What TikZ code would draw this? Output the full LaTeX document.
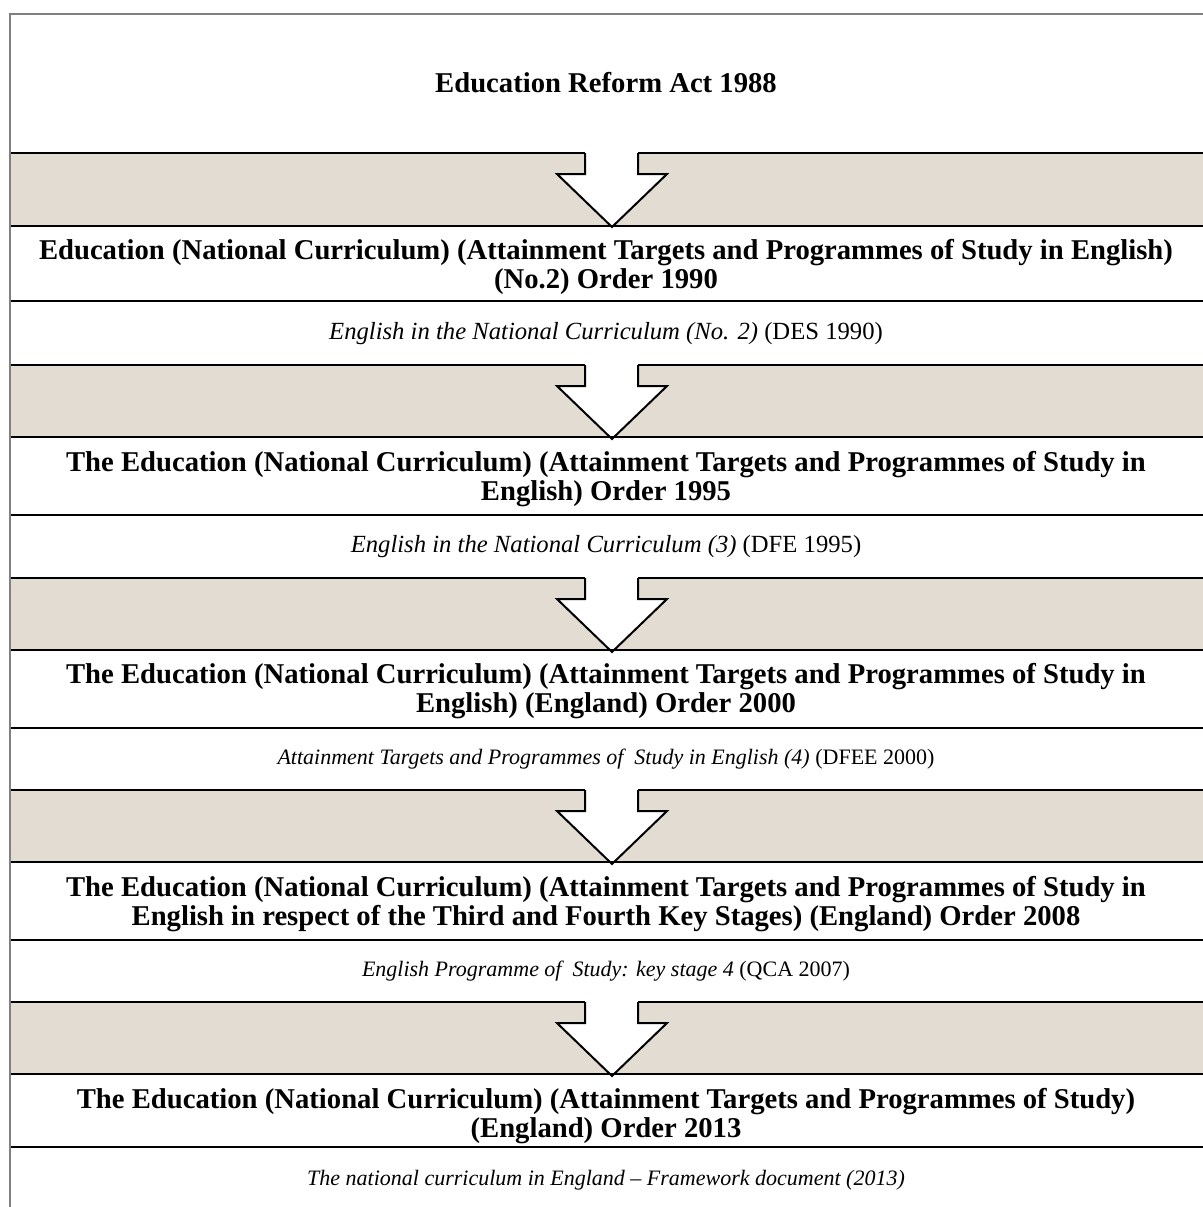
\documentclass[tikz,border=0pt]{standalone}
\usepackage{fontspec}
\setmainfont{Liberation Serif}
\usetikzlibrary{positioning}
\definecolor{bandgrey}{RGB}{226,220,210}
\definecolor{framegrey}{RGB}{128,128,128}
\tikzset{
  rule/.style={line width=1.5pt, black},
  band/.style={fill=bandgrey},
  act/.style={font=\fontsize{21.5}{21.5}\selectfont\bfseries, align=center, inner sep=0pt},
  docbig/.style={font=\fontsize{18.5}{20}\selectfont, align=center, inner sep=0pt},
  doc/.style={font=\fontsize{16.5}{19}\selectfont, align=center, inner sep=0pt},
  blockarrow/.style={draw, line width=1.5pt, line join=miter},
}

\begin{document}
\begin{tikzpicture}[x=0.75pt, y=-0.75pt]
	\useasboundingbox (0,0) rectangle (1203,1207);

	% grey bands with the downward block arrows
	\foreach \t in {153,365,578,790,1002} {
		\fill[band] (10,\t) rectangle (1203,\t+73);
		\fill[white] (585,\t) -- (585,\t+21) -- (557,\t+21) -- (612,\t+74)
			-- (667,\t+21) -- (638,\t+21) -- (638,\t) -- cycle;
		\draw[rule] (10,\t) -- (585,\t) (638,\t) -- (1203,\t);
		\draw[blockarrow] (585,\t) -- (585,\t+21) -- (557,\t+21) -- (612,\t+74)
			-- (667,\t+21) -- (638,\t+21) -- (638,\t);
	}
	\foreach \y in {226,301,437,515,650,728,862,940,1074,1147}
		\draw[rule] (10,\y) -- (1203,\y);

	% outer frame
	\draw[framegrey, line width=2pt] (10,1207) -- (10,14) -- (1203,14);

	\node[act] (era) at (606,83) {Education Reform Act 1988};

	\node[act] (o1990) at (606,267) {Education (National Curriculum) (Attainment Targets and Programmes of Study in English)\\(No.2) Order 1990};
	\node[docbig] (d1990) at (606,334) {\textit{English in the National Curriculum (No. 2)} (DES 1990)};

	\node[act] (o1995) at (606,479) {The Education (National Curriculum) (Attainment Targets and Programmes of Study in\\English) Order 1995};
	\node[docbig] (d1995) at (606,547) {\textit{English in the National Curriculum (3)} (DFE 1995)};

	\node[act] (o2000) at (606,691) {The Education (National Curriculum) (Attainment Targets and Programmes of Study in\\English) (England) Order 2000};
	\node[doc] (d2000) at (606,759) {\textit{Attainment Targets and Programmes of~ Study in English (4)} (DFEE 2000)};

	\node[act] (o2008) at (606,904) {The Education (National Curriculum) (Attainment Targets and Programmes of Study in\\English in respect of the Third and Fourth Key Stages) (England) Order 2008};
	\node[doc] (d2008) at (606,971) {\textit{English Programme of~ Study: key stage 4} (QCA 2007)};

	\node[act] (o2013) at (606,1116) {The Education (National Curriculum) (Attainment Targets and Programmes of Study)\\(England) Order 2013};
	\node[doc] (d2013) at (606,1180) {\textit{The national curriculum in England -- Framework document (2013)}};
\end{tikzpicture}
\end{document}
